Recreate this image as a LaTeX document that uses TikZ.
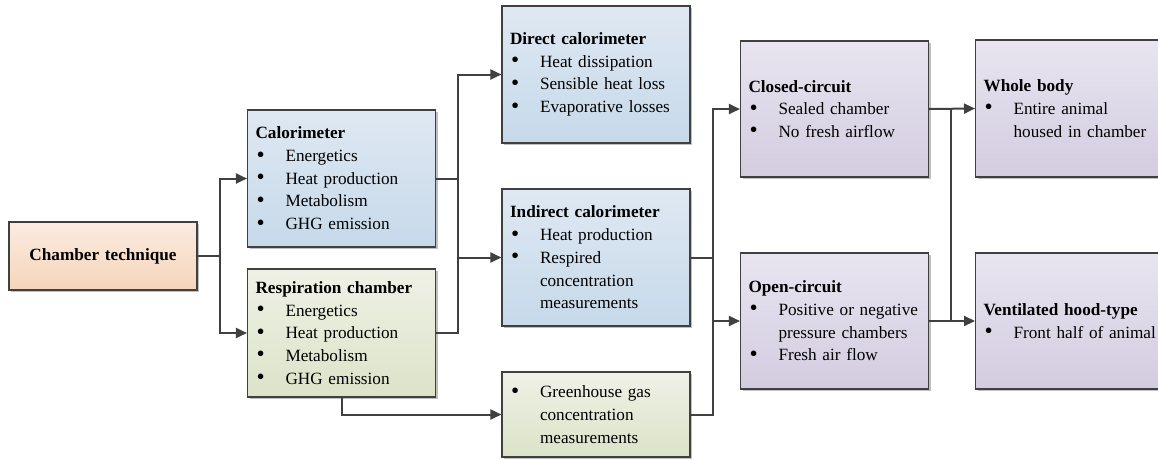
\documentclass[tikz,border=0pt]{standalone}
\usepackage{fontspec}
\setmainfont{Liberation Serif}
\usetikzlibrary{arrows.meta,shadows,calc}

% bullet line and continuation line inside a box
\newcommand\bul[1]{\makebox[30pt][l]{\hspace{1pt}\raisebox{-0.5pt}{\scalebox{1.35}{\textbullet}}}#1}
\newcommand\cont[1]{\hspace*{30pt}#1}

\definecolor{edge}{HTML}{404040}
\definecolor{blueT}{HTML}{DFE8F2}
\definecolor{blueB}{HTML}{C6D9EA}
\definecolor{greenT}{HTML}{EFF1E6}
\definecolor{greenB}{HTML}{DCE3C8}
\definecolor{orangeT}{HTML}{FBEBE0}
\definecolor{orangeB}{HTML}{F5D5BA}
\definecolor{purpleT}{HTML}{E8E5F0}
\definecolor{purpleB}{HTML}{D3CCE0}

\tikzset{
  box/.style={draw=edge, line width=1.1pt, minimum width=188pt, text width=172pt,
    inner xsep=8pt, inner ysep=0pt, align=left,
    font=\rmfamily\fontsize{17.2}{22.7}\selectfont,
    drop shadow={shadow xshift=2pt, shadow yshift=-2pt, opacity=0.25, fill=black}},
  bluebox/.style={box, top color=blueT, bottom color=blueB},
  greenbox/.style={box, top color=greenT, bottom color=greenB},
  orangebox/.style={box, top color=orangeT, bottom color=orangeB},
  purplebox/.style={box, top color=purpleT, bottom color=purpleB},
  widebox/.style={minimum width=190pt, text width=185pt},
  link/.style={draw=edge, line width=2pt},
  arrow/.style={link, -{Triangle[length=11pt,width=10pt]}},
}

\begin{document}
\begin{tikzpicture}[x=1pt,y=-1pt]
\useasboundingbox (0,0) rectangle (1158,459);

% first column
\node[orangebox, minimum height=68pt, align=center] (ct) at (103,256) {\textbf{Chamber technique}};

% second column
\node[bluebox, minimum height=137pt] (cal) at (341.5,178.5)
  {\textbf{Calorimeter}\\ \bul{Energetics}\\ \bul{Heat production}\\ \bul{Metabolism}\\ \bul{GHG emission}};
\node[greenbox, minimum height=128pt] (resp) at (341.5,333)
  {\textbf{Respiration chamber}\\ \bul{Energetics}\\ \bul{Heat production}\\ \bul{Metabolism}\\ \bul{GHG emission}};

% third column
\node[bluebox, minimum height=137pt] (dir) at (596,74.5)
  {\textbf{Direct calorimeter}\\ \bul{Heat dissipation}\\ \bul{Sensible heat loss}\\ \bul{Evaporative losses}};
\node[bluebox, minimum height=137pt] (ind) at (596,257.5)
  {\textbf{Indirect calorimeter}\\ \bul{Heat production}\\ \bul{Respired}\\ \cont{concentration}\\ \cont{measurements}};
\node[greenbox, minimum height=85pt] (gh) at (596,414.5)
  {\bul{Greenhouse gas}\\ \cont{concentration}\\ \cont{measurements}};

% fourth column
\node[purplebox, minimum height=136pt] (cc) at (834.5,109)
  {\textbf{Closed-circuit}\\ \bul{Sealed chamber}\\ \bul{No fresh airflow}};
\node[purplebox, minimum height=136pt] (oc) at (834.5,321)
  {\textbf{Open-circuit}\\ \bul{Positive or negative}\\ \cont{pressure chambers}\\ \bul{Fresh air flow}};

% fifth column (runs past the right edge)
\node[purplebox, widebox, minimum height=137pt, anchor=west] (wb) at (975,108.5)
  {\textbf{Whole body}\\ \bul{Entire animal}\\ \cont{housed in chamber}};
\node[purplebox, widebox, minimum height=136pt, anchor=west] (vh) at (975,321)
  {\textbf{Ventilated hood-type}\\ \bul{Front half of animal}};

% junction columns
\coordinate (j1) at (220,256);
\coordinate (j2) at (458,257.5);
\coordinate (j3) at (713,0);
\coordinate (j4) at (951,0);

% connectors
\draw[link] (ct.east) -- (j1);
\draw[arrow] (j1) |- (cal.west);
\draw[arrow] (j1) |- (resp.west);

\draw[link] (cal.east) -- (cal.east -| j2);
\draw[arrow] (resp.east) -| (j2) |- (dir.west);
\draw[arrow] (j2) -- (ind.west);
\draw[arrow] (resp.south) |- (gh.west);

\draw[link] (ind.east) -- (ind.east -| j3);
\draw[arrow] (gh.east) -| (j3 |- cc.west) -- (cc.west);
\draw[arrow] (oc.west -| j3) -- (oc.west);

\draw[arrow] (cc.east) -- (wb.west);
\draw[arrow] (oc.east) -- (vh.west);
\draw[link] (j4 |- cc.east) -- (j4 |- oc.east);
\end{tikzpicture}
\end{document}
